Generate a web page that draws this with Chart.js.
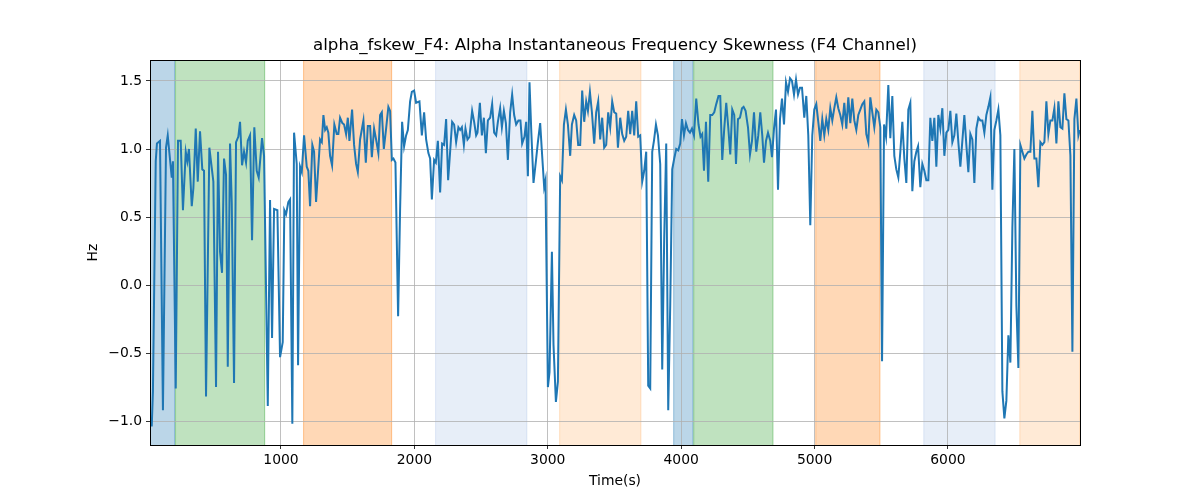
<!DOCTYPE html>
<html>
<head>
<meta charset="utf-8">
<script src="https://cdn.jsdelivr.net/npm/chart.js@4.4.1/dist/chart.umd.min.js"></script>
<style>
  html, body { margin: 0; padding: 0; background: #fff; }
  #c { display: block; }
</style>
</head>
<body>
<canvas id="c" width="1200" height="500"></canvas>
<script>
// sample times (s) and skewness values (Hz), in five stretches
var times1 = [31,40,61,70,93,115,138,151,181,190,211,228,248,265,286,298,310,331,343,361,376,393,410,423,438,463,493,513,528,543,558,573,588,601,618,631,648,663,680,693,708,723,738,751,768,783,800,818,833,858,873,901,918,933,948,973,993,1013,1025,1038,1055,1068,1085,1098,1118,1128,1143,1156,1173,1193,1205,1218,1235,1248,1263,1293,1306,1318,1331,1343,1355,1368,1383,1400,1418,1430,1443];
var values1 = [-1.04,-0.78,0.91,1.04,1.06,-0.92,1.01,1.10,0.79,0.91,-0.76,1.06,1.06,0.55,0.98,0.91,1.00,0.58,0.71,1.15,0.76,1.13,0.85,0.84,-0.82,1.01,0.76,-0.75,0.98,0.245,0.09,0.93,0.81,-0.60,1.04,0.60,-0.72,1.05,1.09,1.20,0.88,0.98,0.90,1.06,1.10,0.33,1.16,0.84,0.79,1.08,0.95,-0.89,0.625,-0.39,0.56,0.55,-0.53,-0.42,0.55,0.52,0.61,0.63,-1.02,1.12,0.89,-0.59,0.87,0.83,1.10,0.87,0.84,0.58,1.03,0.98,0.61,1.07,1.05,1.25,1.14,1.16,1.12,0.95,0.88,1.18,1.11,1.11,1.23];

var times2 = [1460,1473,1488,1501,1513,1533,1548,1563,1576,1593,1618,1636,1651,1668,1681,1698,1713,1730,1743,1756,1771,1788,1805,1818,1831,1843,1858,1878,1893,1908,1923,1938,1951,1968,1981,1998,2013,2038,2056,2073,2088,2105,2118,2131,2148,2161,2176,2193,2208,2223,2238,2253,2268,2283,2298,2313,2330,2343,2356,2371,2383,2398,2413,2433,2448,2463,2473,2491,2506,2521,2536,2551,2568,2583,2598,2613,2626,2643,2656,2671,2686,2701,2718,2733,2748,2763,2780,2795,2808,2825,2838,2851,2863];
var values2 = [1.19,1.18,1.11,1.23,1.06,1.29,1.03,0.89,0.83,1.07,1.21,0.90,1.17,1.17,0.94,1.15,1.07,0.97,1.25,1.27,1.00,1.15,1.31,1.28,0.92,0.93,0.90,-0.23,0.56,1.20,1.02,1.10,1.14,1.35,1.42,1.43,1.34,1.35,1.10,1.27,1.07,0.97,0.93,0.63,0.92,0.90,1.06,0.68,1.04,1.03,1.22,0.77,0.98,1.20,1.18,1.05,1.16,1.14,1.16,1.03,1.15,1.07,1.09,1.28,1.20,1.10,1.12,1.34,1.10,1.23,0.97,1.21,1.23,1.33,1.12,1.10,1.20,1.30,1.16,1.28,1.19,0.92,1.27,1.40,1.25,1.18,1.21,1.21,1.04,1.09,1.20,0.80,1.49];

var times3 = [2876,2893,2911,2926,2943,2958,2973,2983,3001,3013,3031,3043,3061,3076,3093,3106,3121,3136,3151,3168,3181,3198,3213,3228,3243,3258,3273,3288,3301,3316,3331,3348,3363,3378,3393,3408,3423,3438,3453,3468,3483,3498,3513,3526,3543,3558,3573,3588,3603,3618,3633,3648,3663,3678,3693,3708,3723,3738,3753,3768,3783,3796,3811,3826,3843,3858,3873,3888,3903,3918,3933,3948,3963,3978,3993,4006,4021,4036,4051,4066,4081,4096,4113,4130,4145,4158,4171,4186,4203,4218,4233,4248,4263,4280];
var values3 = [1.14,0.75,0.91,1.05,1.19,0.95,0.72,0.77,-0.75,-0.64,0.245,-0.44,-0.86,-0.71,0.80,0.77,1.18,1.29,1.18,0.95,1.18,1.25,1.21,1.03,1.03,1.43,1.20,1.35,1.28,1.42,1.27,1.04,1.27,1.35,1.07,1.23,1.01,1.03,1.27,1.16,1.35,1.27,1.26,1.01,1.23,1.11,1.06,1.09,1.28,1.11,1.28,1.10,1.35,1.09,1.10,0.76,0.84,0.98,-0.74,-0.76,0.98,1.06,1.18,1.10,0.89,-0.62,0.35,1.04,-0.92,-0.15,0.85,0.93,1.00,0.99,1.04,1.22,1.10,1.19,1.14,1.12,1.15,1.10,1.37,1.18,1.09,1.11,0.84,1.20,0.76,1.25,1.25,1.27,1.33,1.39];

var times4 = [4293,4308,4323,4338,4353,4368,4383,4398,4411,4426,4441,4456,4468,4483,4501,4516,4531,4546,4563,4578,4593,4608,4621,4636,4651,4668,4681,4696,4711,4726,4741,4756,4771,4786,4801,4816,4831,4846,4861,4876,4891,4906,4923,4938,4953,4968,4983,4998,5013,5028,5043,5058,5073,5088,5103,5118,5133,5148,5163,5178,5193,5208,5223,5238,5253,5268,5283,5298,5313,5328,5343,5358,5373,5388,5403,5418,5433,5448,5463,5478,5493,5506,5521,5536,5553,5568,5583,5598,5613,5628,5643,5658,5673,5688,5703,5718];
var values4 = [1.39,0.92,1.15,1.34,1.16,0.96,1.29,1.25,0.89,1.22,1.23,1.30,1.31,1.28,1.16,0.96,1.06,1.27,0.98,1.10,1.27,1.10,0.90,1.06,1.12,1.06,0.94,1.15,1.29,0.70,1.22,1.37,1.18,1.49,1.42,1.52,1.50,1.40,1.51,1.40,1.45,1.45,1.23,1.39,1.10,0.44,1.10,1.29,1.33,1.20,1.06,1.22,1.10,1.22,1.14,1.30,1.21,1.30,1.38,1.30,1.25,1.18,1.34,1.15,1.38,1.19,1.37,1.21,1.14,1.25,1.29,1.33,1.35,1.11,1.05,1.38,1.27,1.16,1.29,1.27,1.16,-0.56,1.18,1.09,1.47,1.08,1.39,0.95,0.85,0.79,0.98,1.20,0.93,0.75,1.29,1.34];

var times5 = [5733,5748,5763,5776,5793,5808,5823,5838,5853,5868,5883,5898,5913,5928,5943,5958,5973,5988,6003,6018,6033,6048,6063,6078,6093,6108,6123,6138,6153,6168,6183,6198,6213,6228,6243,6258,6273,6288,6303,6318,6333,6348,6363,6378,6393,6408,6423,6438,6453,6468,6483,6498,6513,6528,6543,6558,6573,6588,6603,6618,6633,6648,6663,6678,6693,6708,6723,6738,6753,6768,6783,6798,6813,6828,6843,6858,6873,6888,6903,6918,6933,6948,6963,6978,6988];
var values5 = [0.69,0.91,0.98,1.02,0.72,0.89,0.84,0.77,0.77,1.23,1.06,1.23,0.87,1.25,1.15,1.30,0.95,1.12,1.14,1.28,1.05,1.10,1.26,1.05,0.87,1.06,1.25,1.03,0.83,1.11,1.07,0.75,1.15,1.23,1.21,1.21,1.12,1.25,1.31,1.38,0.70,1.14,1.21,1.29,1.10,-0.78,-0.98,-0.85,-0.37,-0.57,0.42,1.00,-0.15,-0.61,1.03,0.98,0.93,0.96,0.98,0.98,1.28,0.93,0.93,0.72,1.05,1.03,1.05,1.35,1.11,1.21,1.21,1.30,1.04,1.35,1.16,1.15,1.41,1.22,1.21,0.95,-0.49,1.22,1.37,1.10,1.14];

// shaded bands (s)
var bandStart = [18, 206, 1166, 2156, 3086, 3941, 4091, 5006, 5816, 6536];
var bandEnd   = [206, 881, 1833, 2846, 3701, 4091, 4691, 5493, 6356, 6990];
var bandKind  = ['blue', 'green', 'orange', 'lightblue', 'lightorange', 'blue', 'green', 'orange', 'lightblue', 'lightorange'];

var xTicks = [1000, 2000, 3000, 4000, 5000, 6000];
var yTicks = [-1.0, -0.5, 0.0, 0.5, 1.0, 1.5];

var bandColors = {
    blue:        'rgba(31,119,180,0.3)',
    green:       'rgba(44,160,44,0.3)',
    orange:      'rgba(255,127,14,0.3)',
    lightblue:   'rgba(174,199,232,0.3)',
    lightorange: 'rgba(255,187,120,0.3)'
};

var times = times1.concat(times2, times3, times4, times5);
var values = values1.concat(values2, values3, values4, values5);
var points = times.map(function (t, i) { return { x: t, y: values[i] }; });

Chart.defaults.font.family = "'DejaVu Sans', sans-serif";
Chart.defaults.color = '#000';

var bands = {
    id: 'bands',
    afterLayout: function (chart) {
        // centre the title over the plot area, as matplotlib does
        var a = chart.chartArea, t = chart.titleBlock;
        if (t) { t.left = a.left; t.right = a.right; t.width = a.right - a.left; }
    },
    beforeDraw: function (chart) {
        var ctx = chart.ctx, a = chart.chartArea, x = chart.scales.x;
        ctx.save();
        for (var i = 0; i < bandStart.length; i++) {
            var x0 = Math.max(x.getPixelForValue(bandStart[i]), a.left);
            var x1 = Math.min(x.getPixelForValue(bandEnd[i]), a.right);
            ctx.fillStyle = bandColors[bandKind[i]];
            ctx.fillRect(x0, a.top, x1 - x0, a.bottom - a.top);
            // thin edges like axvspan
            ctx.strokeStyle = bandColors[bandKind[i]];
            ctx.lineWidth = 1;
            ctx.beginPath();
            ctx.moveTo(x0 + 0.5, a.top); ctx.lineTo(x0 + 0.5, a.bottom);
            ctx.moveTo(x1 - 0.5, a.top); ctx.lineTo(x1 - 0.5, a.bottom);
            ctx.stroke();
        }
        ctx.restore();
    },
    afterDatasetsDraw: function (chart) {
        var ctx = chart.ctx, a = chart.chartArea;
        ctx.save();
        ctx.strokeStyle = '#000';
        ctx.lineWidth = 1;
        ctx.strokeRect(Math.round(a.left) + 0.5, Math.round(a.top) + 0.5,
            Math.round(a.right - a.left), Math.round(a.bottom - a.top));
        ctx.restore();
    }
};

var ctx = document.getElementById('c').getContext('2d');
var chart = new Chart(ctx, {
    type: 'line',
    data: {
        datasets: [{
            data: points,
            borderColor: '#1f77b4',
            borderWidth: 2,
            pointRadius: 0,
            tension: 0,
            fill: false
        }]
    },
    options: {
        responsive: false,
        animation: false,
        parsing: false,
        layout: { padding: { left: 0, right: 120, top: 0, bottom: 0 } },
        plugins: {
            legend: { display: false },
            tooltip: { enabled: false },
            title: {
                display: true,
                text: 'alpha_fskew_F4: Alpha Instantaneous Frequency Skewness (F4 Channel)',
                font: { size: 16.7, weight: 'normal' },
                color: '#000',
                padding: { top: 36, bottom: 4 }
            }
        },
        scales: {
            x: {
                type: 'linear',
                min: 18,
                max: 6990,
                afterBuildTicks: function (s) { s.ticks = xTicks.map(function (v) { return { value: v }; }); },
                afterFit: function (s) { s.height = 55; },
                ticks: {
                    font: { size: 13.9 },
                    color: '#000',
                    padding: 3,
                    maxRotation: 0,
                    callback: function (v) { return String(v); }
                },
                grid: { color: '#b0b0b0', lineWidth: 0.8, tickColor: '#000', tickLength: 4, drawTicks: true },
                border: { display: false },
                title: { display: true, text: 'Time(s)', font: { size: 13.9 }, color: '#000', padding: { top: 0, bottom: 10 } }
            },
            y: {
                min: -1.176,
                max: 1.654,
                afterBuildTicks: function (s) { s.ticks = yTicks.map(function (v) { return { value: v }; }); },
                afterFit: function (s) { s.width = 150; },
                ticks: {
                    font: { size: 13.9 },
                    color: '#000',
                    padding: 4,
                    callback: function (v) { return v.toFixed(1).replace('-', '\u2212'); }
                },
                grid: { color: '#b0b0b0', lineWidth: 0.8, tickColor: '#000', tickLength: 4, drawTicks: true },
                border: { display: false },
                title: { display: true, text: 'Hz', font: { size: 13.9 }, color: '#000', padding: { top: 85, bottom: 0 } }
            }
        }
    },
    plugins: [bands]
});
</script>
</body>
</html>
